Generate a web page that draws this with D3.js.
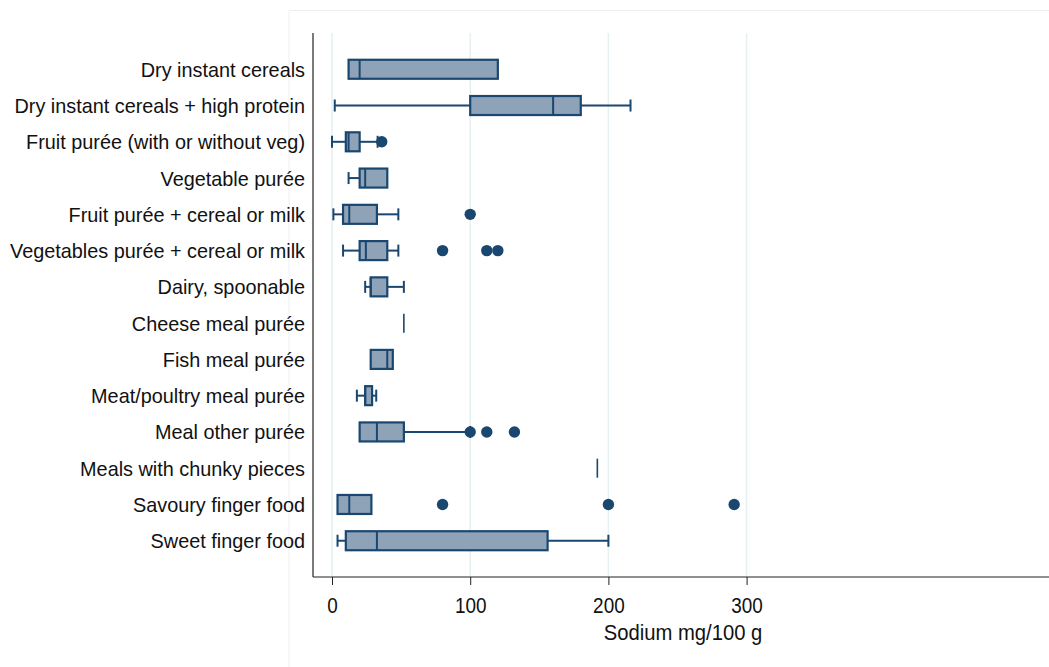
<!DOCTYPE html>
<html>
<head>
<meta charset="utf-8">
<script src="https://cdn.jsdelivr.net/npm/d3@7"></script>
<style>
  html, body { margin: 0; padding: 0; background: #fff; }
  svg { display: block; }
  text { font-family: "Liberation Sans", Arial, Helvetica, sans-serif; fill: #111; }
</style>
</head>
<body>
<svg id="chart" width="1049" height="667"></svg>
<script>
// ---- Data (Sodium mg/100 g) ----
const categories = [
  "Dry instant cereals",
  "Dry instant cereals + high protein",
  "Fruit purée (with or without veg)",
  "Vegetable purée",
  "Fruit purée + cereal or milk",
  "Vegetables purée + cereal or milk",
  "Dairy, spoonable",
  "Cheese meal purée",
  "Fish meal purée",
  "Meat/poultry meal purée",
  "Meal other purée",
  "Meals with chunky pieces",
  "Savoury finger food",
  "Sweet finger food"
];
const whiskerLow  = [12, 2,   0,  12, 1,    8,    24, 52, 28, 18, 20,   192, 4,    4];
const q1          = [12, 100, 10, 20, 8,    20,   28, 52, 28, 24, 20,   192, 4,    10];
const median      = [20, 160, 12, 24, 12.5, 24.5, 28, 52, 40, 24, 32.5, 192, 12.5, 32.5];
const q3          = [120,180, 20, 40, 32.5, 40,   40, 52, 44, 29, 52,   192, 28.5, 156];
const whiskerHigh = [120,216, 33, 40, 48,   48,   52, 52, 44, 32, 100,  192, 28.5, 200];
const outliers    = [[], [], [36], [], [100], [80, 112, 120], [], [], [], [], [100, 112, 132], [], [80, 200, 291], []];
const xTicks = [0, 100, 200, 300];
const xTitle = "Sodium mg/100 g";

// ---- Layout ----
const W = 1049, H = 667;
const plotLeft = 313, plotRight = 1049, plotTop = 33, plotBottom = 577;
const navy = "#1a476f", boxFill = "#8fa3b8", gridCol = "#e6eff1";

const svg = d3.select("#chart");

// outer graph region border (faint)
svg.append("path")
  .attr("d", `M289,${H} L289,10.5 L${W},10.5`)
  .attr("fill", "none").attr("stroke", "#eceff1").attr("stroke-width", 1);

const x = d3.scaleLinear().domain([0, 300]).range([332, 746.6]);
const y = d3.scalePoint().domain(categories).range([plotTop, plotBottom]).padding(1);

// gridlines
svg.append("g").selectAll("line").data(xTicks).join("line")
  .attr("x1", d => x(d)).attr("x2", d => x(d))
  .attr("y1", plotTop).attr("y2", plotBottom)
  .attr("stroke", gridCol).attr("stroke-width", 1.5);

// x axis
const xAxis = svg.append("g")
  .attr("transform", `translate(0,${plotBottom})`)
  .call(d3.axisBottom(x).tickValues(xTicks).tickSize(8).tickPadding(0).tickFormat(d3.format("d")));
xAxis.select(".domain").remove();
xAxis.selectAll(".tick line").attr("stroke", "#222").attr("stroke-width", 1);
xAxis.selectAll(".tick text")
  .attr("y", 0).attr("dy", null)
  .attr("transform", "translate(0,36) scale(0.86,1.02)")
  .attr("font-size", 22).attr("fill", "#111")
  .attr("font-family", "'Liberation Sans', Arial, sans-serif");

// axis lines
svg.append("line").attr("x1", plotLeft).attr("x2", plotRight).attr("y1", plotBottom).attr("y2", plotBottom)
  .attr("stroke", "#222").attr("stroke-width", 1.2);
svg.append("line").attr("x1", plotLeft).attr("x2", plotLeft).attr("y1", plotTop).attr("y2", plotBottom)
  .attr("stroke", "#222").attr("stroke-width", 1.2);

// x title
svg.append("text")
  .attr("transform", `translate(${(plotLeft + plotRight) / 2 + 2},640) scale(0.92,1.02)`)
  .attr("text-anchor", "middle").attr("font-size", 22)
  .text(xTitle);

// category labels
svg.append("g").selectAll("text").data(categories).join("text")
  .attr("transform", d => `translate(305,${y(d) + 7.5}) scale(0.945,1)`)
  .attr("text-anchor", "end").attr("font-size", 21)
  .text(d => d);

// boxes
const boxH = 19, capH = 12;
const rows = categories.map((c, i) => ({
  c, lo: whiskerLow[i], q1: q1[i], med: median[i], q3: q3[i], hi: whiskerHigh[i], out: outliers[i]
}));

const g = svg.append("g");
rows.forEach(r => {
  const cy = y(r.c);
  const gg = g.append("g");
  // whiskers
  if (r.lo < r.q1) {
    gg.append("line").attr("x1", x(r.lo)).attr("x2", x(r.q1)).attr("y1", cy).attr("y2", cy)
      .attr("stroke", navy).attr("stroke-width", 2);
    gg.append("line").attr("x1", x(r.lo)).attr("x2", x(r.lo)).attr("y1", cy - capH / 2).attr("y2", cy + capH / 2)
      .attr("stroke", navy).attr("stroke-width", 2);
  }
  if (r.hi > r.q3) {
    gg.append("line").attr("x1", x(r.q3)).attr("x2", x(r.hi)).attr("y1", cy).attr("y2", cy)
      .attr("stroke", navy).attr("stroke-width", 2);
    gg.append("line").attr("x1", x(r.hi)).attr("x2", x(r.hi)).attr("y1", cy - capH / 2).attr("y2", cy + capH / 2)
      .attr("stroke", navy).attr("stroke-width", 2);
  }
  // box
  if (r.q3 > r.q1) {
    gg.append("rect").attr("x", x(r.q1)).attr("y", cy - boxH / 2)
      .attr("width", x(r.q3) - x(r.q1)).attr("height", boxH)
      .attr("fill", boxFill).attr("stroke", navy).attr("stroke-width", 2.2);
    gg.append("line").attr("x1", x(r.med)).attr("x2", x(r.med)).attr("y1", cy - boxH / 2).attr("y2", cy + boxH / 2)
      .attr("stroke", navy).attr("stroke-width", 2);
  } else {
    gg.append("line").attr("x1", x(r.med)).attr("x2", x(r.med)).attr("y1", cy - boxH / 2).attr("y2", cy + boxH / 2)
      .attr("stroke", navy).attr("stroke-width", 1.6);
  }
  // outliers
  gg.selectAll("circle").data(r.out).join("circle")
    .attr("cx", d => x(d)).attr("cy", cy).attr("r", 5.7)
    .attr("fill", navy);
});
</script>
</body>
</html>
